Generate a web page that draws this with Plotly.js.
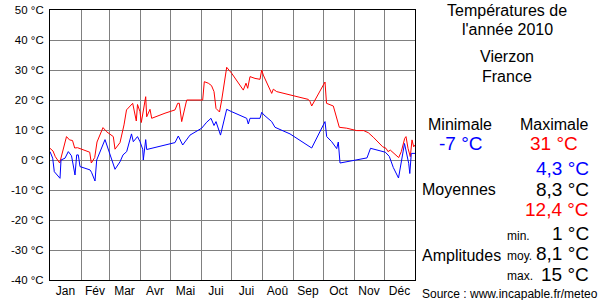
<!DOCTYPE html>
<html>
<head>
<meta charset="utf-8">
<script src="https://cdn.plot.ly/plotly-3.0.1.min.js"></script>
<style>html,body{margin:0;padding:0;background:#fff;}#chart{width:600px;height:300px;}</style>
</head>
<body>
<div id="chart"></div>
<script>
// Day of year (0..365) and temperatures (°C)
const maxDays = [0,3,5.3,9.7,16.5,19.5,22.5,24.7,27.5,39.7,41.3,44.7,47,53,56.7,63.3,65,70,74,76.5,82.7,85,86.3,87.5,90,91.3,94.3,95.7,96.7,100,101.7,108,115,125,127.7,129.3,131.7,136.7,152.7,154.3,158.3,161.5,164,166,169.5,171.7,176.7,181.7,193.3,196,197.7,200,205,210,211.7,213.3,218.3,221.7,223.3,226.7,240,258.3,260,261.7,275,276.5,283.3,289.3,296.7,306.7,313.7,318.3,323.3,332.7,336,338,340.3,348.7,351.3,354.7,356,358,360.3,362,363.7,365];
const maxTemps = [3.9,3.0,1.1,-1.0,7.8,6.7,6.5,4.0,4.1,2.6,-1.0,0.8,6.0,10.8,9.4,7.8,3.6,5.8,11.7,16.7,18.9,15.6,13.0,18.5,16.1,12.5,19.0,21.1,14.4,16.9,13.9,14.8,15.6,16.7,18.9,18.9,12.8,20,20,26.1,25.6,24.8,22.8,17.2,16.0,20,30.9,28.9,23.3,25.6,23.9,27.8,27.2,26.9,30,28.3,24.7,22.2,23.6,22.8,21.7,20.2,19.5,18,26.0,18.9,18.0,10.9,10.6,9.8,9.8,9.1,7.6,4.4,3.9,2.8,3.3,0.8,2.8,7.2,7.8,3.9,1.1,6.7,4.4,5];
const minDays = [0,2.7,4.3,10,11,15,18.3,21.5,25,26.7,28.3,30,40,41.5,45,46.7,55,65,70,73,76.7,81.5,83.3,87.5,90,92.7,93.3,95.7,96.7,101.5,113.3,125,128.3,132.7,140,151.7,156.7,161,164,166,170.5,176.7,181.7,196.7,198.3,200,210,211.7,214,221.7,225,240,261.7,275,276.7,281.7,286.7,288.3,290,303.3,317,320.5,335.3,339.3,343.3,348.5,351.5,353.8,354.5,358.7,359.8,361.3,365];
const minTemps = [2.8,0.6,-3.9,-6.1,0,0.6,2.8,1.4,-5,1.7,1.7,-2.2,-3.3,-4.1,-7.0,0,6.8,-3.1,-0.6,1.7,2.8,8.7,6.1,7.8,6.1,3.6,0,6.8,3.5,3.9,5.0,5.8,8.0,5.0,8.3,10.6,12.6,13.9,11.5,12.8,8.3,16.9,16.1,13.9,12,13.9,13.9,15.9,15,12.8,10.9,8.7,4.0,12.8,7.8,6.1,3.8,6.0,-1.0,-0.2,0.7,3.9,2.6,1.2,-2.5,-6.0,0,5.5,5.5,-1.1,-4.5,2.2,2.2];

const monthBounds = [31,59,90,120,151,181,212,243,273,304,334];
const monthMids = [15.5,45,74.5,105,135.5,166,196.5,227.5,258,288.5,319,349.5];
const monthLabels = ['Jan','Fév','Mar','Avr','Mai','Jui','Jui','Aoû','Sep','Oct','Nov','Déc'];
const yTicks = [-40,-30,-20,-10,0,10,20,30,40,50];
const yLabels = yTicks.map(v => v + ' °C');

const FONT = 'Liberation Sans, Arial, sans-serif';
const L = 50, R = 415, T = 10, B = 280;
const px = x => (x - L) / (R - L);
const py = y => (B - y) / (B - T);

function ann(text, x, y, size, color, xanchor) {
  return {text: text, xref: 'paper', yref: 'paper', x: px(x), y: py(y),
    xanchor: xanchor || 'center', yanchor: 'middle', showarrow: false,
    font: {family: FONT, size: size, color: color || '#000'}, borderpad: 0};
}

const annotations = [
  ann('Températures de', 507, 10, 16),
  ann("l'année 2010", 507, 29, 16),
  ann('Vierzon', 507, 57, 16),
  ann('France', 507, 77, 16),
  ann('Minimale', 460, 124, 16),
  ann('Maximale', 554, 124, 16),
  ann('-7 °C', 461, 143.5, 19, '#0000ff'),
  ann('31 °C', 554, 143.5, 19, '#ff0000'),
  ann('4,3 °C', 590, 168.5, 19, '#0000ff', 'right'),
  ann('Moyennes', 421, 189, 16, '#000', 'left'),
  ann('8,3 °C', 590, 189, 19, '#000', 'right'),
  ann('12,4 °C', 590, 209, 19, '#ff0000', 'right'),
  ann('min.', 506, 236, 12, '#000', 'left'),
  ann('1 °C', 590, 233.5, 19, '#000', 'right'),
  ann('Amplitudes', 421, 255, 16, '#000', 'left'),
  ann('moy.', 506, 256, 12, '#000', 'left'),
  ann('8,1 °C', 590, 253.5, 19, '#000', 'right'),
  ann('max.', 506, 276, 12, '#000', 'left'),
  ann('15 °C', 590, 274, 19, '#000', 'right'),
  ann('Source : www.incapable.fr/meteo', 421, 294, 12, '#000', 'left')
];

const data = [
  {x: maxDays, y: maxTemps, type: 'scatter', mode: 'lines', line: {color: '#ff0000', width: 1}, hoverinfo: 'skip'},
  {x: minDays, y: minTemps, type: 'scatter', mode: 'lines', line: {color: '#0000ff', width: 1}, hoverinfo: 'skip'},
  {x: monthMids, y: monthMids.map(() => null), xaxis: 'x2', type: 'scatter', mode: 'lines', showlegend: false, hoverinfo: 'skip'}
];

const layout = {
  width: 600, height: 300,
  margin: {l: L, r: 600 - R, t: T, b: 300 - B, pad: 0},
  paper_bgcolor: '#fff', plot_bgcolor: '#fff',
  showlegend: false,
  font: {family: FONT, size: 12, color: '#000'},
  xaxis: {range: [0, 365], tickvals: monthBounds, showticklabels: false, ticks: '',
    showgrid: true, gridcolor: '#808080', gridwidth: 1, zeroline: false,
    showline: true, mirror: true, linecolor: '#000', linewidth: 1, fixedrange: true},
  xaxis2: {range: [0, 365], overlaying: 'x', anchor: 'y', side: 'bottom',
    tickvals: monthMids, ticktext: monthLabels, ticks: '', showgrid: false, zeroline: false,
    showline: false, ticklabelstandoff: 2, tickfont: {family: FONT, size: 12, color: '#000'}, fixedrange: true},
  yaxis: {range: [-40, 50], tickvals: yTicks, ticktext: yLabels, ticks: '',
    showgrid: true, gridcolor: '#808080', gridwidth: 1, zeroline: false,
    showline: true, mirror: true, linecolor: '#000', linewidth: 1, ticklabelstandoff: 3,
    tickfont: {family: FONT, size: 11.5, color: '#000'}, fixedrange: true},
  annotations: annotations
};

Plotly.newPlot('chart', data, layout, {staticPlot: true, displayModeBar: false});
</script>
</body>
</html>
